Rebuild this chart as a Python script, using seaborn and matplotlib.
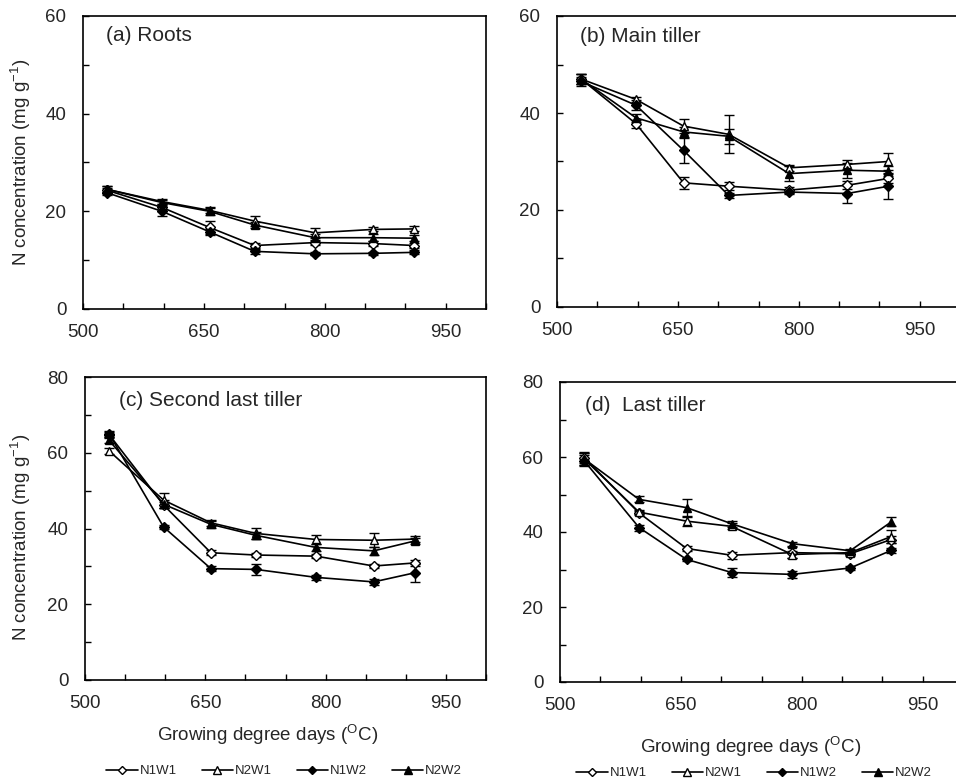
import numpy as np
import pandas as pd
import matplotlib
matplotlib.use("Agg")
import matplotlib.pyplot as plt
from matplotlib.lines import Line2D
from matplotlib.ticker import MultipleLocator, FixedLocator
import seaborn as sns

sns.set_style("white")
plt.rcParams['font.family'] = ['Liberation Sans', 'DejaVu Sans']
plt.rcParams['mathtext.fontset'] = 'custom'
plt.rcParams['mathtext.rm'] = 'Liberation Sans'
plt.rcParams['mathtext.it'] = 'Liberation Sans'

# ---- data ----
gdd = [530, 598, 657, 713, 788, 860, 911]
treatments = ["N1W1", "N2W1", "N1W2", "N2W2"]

roots_N1W1 = [24.3, 20.8, 16.7, 13.0, 13.6, 13.4, 13.0]
roots_N2W1 = [24.5, 22.0, 20.2, 18.0, 15.6, 16.3, 16.4]
roots_N1W2 = [23.8, 20.0, 15.8, 11.8, 11.3, 11.4, 11.6]
roots_N2W2 = [24.5, 21.8, 20.0, 17.2, 14.6, 14.6, 14.5]
roots_err_N1W1 = [0.5, 0.8, 1.4, 0.6, 0.5, 0.6, 0.5]
roots_err_N2W1 = [0.6, 0.6, 0.6, 1.1, 1.0, 0.4, 0.5]
roots_err_N1W2 = [0.5, 0.9, 0.6, 0.5, 0.3, 0.3, 0.4]
roots_err_N2W2 = [0.6, 0.6, 0.7, 0.7, 0.7, 0.7, 0.6]

main_N1W1 = [47.0, 37.8, 25.6, 24.9, 24.1, 25.1, 26.5]
main_N2W1 = [47.0, 42.8, 37.3, 35.6, 28.7, 29.4, 30.0]
main_N1W2 = [46.5, 41.6, 32.3, 23.0, 23.7, 23.4, 24.9]
main_N2W2 = [47.0, 39.0, 36.1, 35.2, 27.5, 28.2, 28.0]
main_err_N1W1 = [1.0, 0.8, 1.3, 0.8, 0.6, 0.8, 1.0]
main_err_N2W1 = [1.0, 0.6, 1.5, 3.9, 0.6, 1.0, 1.8]
main_err_N1W2 = [1.0, 1.0, 2.6, 0.6, 0.5, 2.0, 2.7]
main_err_N2W2 = [1.0, 0.8, 1.0, 1.5, 1.5, 1.5, 1.0]

second_N1W1 = [64.8, 46.2, 33.6, 33.0, 32.7, 30.1, 30.9]
second_N2W1 = [60.5, 47.5, 41.5, 38.7, 37.1, 36.9, 37.2]
second_N1W2 = [65.0, 40.4, 29.4, 29.2, 27.1, 25.9, 28.3]
second_N2W2 = [63.3, 46.4, 41.1, 38.2, 35.0, 34.1, 36.7]
second_err_N1W1 = [0.8, 0.8, 0.6, 0.6, 0.6, 0.6, 0.9]
second_err_N2W1 = [0.8, 2.0, 0.8, 1.5, 1.1, 1.9, 0.8]
second_err_N1W2 = [0.8, 0.6, 0.7, 1.5, 0.7, 0.7, 2.4]
second_err_N2W2 = [0.8, 1.0, 1.0, 1.0, 1.0, 1.0, 0.8]

last_N1W1 = [59.8, 45.1, 35.6, 33.8, 34.5, 34.2, 38.0]
last_N2W1 = [59.5, 45.3, 42.9, 41.5, 34.0, 34.5, 38.8]
last_N1W2 = [59.0, 41.2, 32.7, 29.2, 28.7, 30.4, 35.1]
last_N2W2 = [59.5, 48.7, 46.5, 42.2, 36.9, 35.0, 42.7]
last_err_N1W1 = [1.5, 0.6, 0.6, 1.0, 1.5, 0.6, 1.0]
last_err_N2W1 = [1.5, 0.6, 1.2, 0.8, 1.0, 0.6, 1.8]
last_err_N1W2 = [1.5, 0.8, 0.5, 1.3, 1.0, 0.5, 0.7]
last_err_N2W2 = [1.5, 0.8, 2.3, 0.8, 0.5, 0.5, 1.2]

panel_titles = ["(a) Roots", "(b) Main tiller", "(c) Second last tiller", "(d)  Last tiller"]
x_ticklabels = ["500", "650", "800", "950"]

panels = [
    (roots_N1W1, roots_N2W1, roots_N1W2, roots_N2W2,
     roots_err_N1W1, roots_err_N2W1, roots_err_N1W2, roots_err_N2W2),
    (main_N1W1, main_N2W1, main_N1W2, main_N2W2,
     main_err_N1W1, main_err_N2W1, main_err_N1W2, main_err_N2W2),
    (second_N1W1, second_N2W1, second_N1W2, second_N2W2,
     second_err_N1W1, second_err_N2W1, second_err_N1W2, second_err_N2W2),
    (last_N1W1, last_N2W1, last_N1W2, last_N2W2,
     last_err_N1W1, last_err_N2W1, last_err_N1W2, last_err_N2W2),
]

styles = {
    "N1W1": dict(marker="D", mfc="white", ms=4.8),
    "N2W1": dict(marker="^", mfc="white", ms=6),
    "N1W2": dict(marker="D", mfc="black", ms=4.8),
    "N2W2": dict(marker="^", mfc="black", ms=6),
}

W, H = 956, 780
fig = plt.figure(figsize=(W / 100, H / 100), dpi=100)

def px_axes(l, t, r, b):
    return fig.add_axes([l / W, 1 - b / H, (r - l) / W, (b - t) / H])

axes = [
    px_axes(83, 16, 486, 309),
    px_axes(557, 16, 960, 307),
    px_axes(85, 377, 486, 680),
    px_axes(560, 382, 963, 682),
]
ylims = [60, 60, 80, 80]
title_pos = [(0.057, 0.935), (0.057, 0.928), (0.085, 0.924), (0.063, 0.923)]

for i, ax in enumerate(axes):
    vals = panels[i]
    for j, t in enumerate(treatments):
        y = vals[j]
        e = vals[j + 4]
        st = styles[t]
        ax.errorbar(gdd, y, yerr=e, fmt="none", ecolor="black",
                    elinewidth=1.0, capsize=3.5, capthick=1.0, zorder=2)
        sns.lineplot(x=gdd, y=y, ax=ax, color="black", lw=1.2,
                     marker=st["marker"], markersize=st["ms"],
                     markerfacecolor=st["mfc"], markeredgecolor="black",
                     markeredgewidth=1.0, zorder=3, legend=False)
    ax.set_xlim(500, 1000)
    ax.set_ylim(0, ylims[i])
    ax.xaxis.set_major_locator(FixedLocator([500, 650, 800, 950]))
    ax.set_xticklabels(x_ticklabels)
    ax.xaxis.set_minor_locator(MultipleLocator(50))
    ax.yaxis.set_major_locator(MultipleLocator(20))
    ax.yaxis.set_minor_locator(MultipleLocator(10))
    ax.tick_params(which="both", direction="in", length=4.5, width=1.0,
                   bottom=True, left=True, top=False, right=False, color="black")
    ax.tick_params(axis="x", which="major", pad=11, labelsize=13.5)
    ax.tick_params(axis="y", which="major", pad=12, labelsize=13.5)
    for s in ax.spines.values():
        s.set_color("black")
        s.set_linewidth(1.2)
        s.set_visible(True)
    ax.set_xlabel("")
    ax.set_ylabel("")
    ax.text(title_pos[i][0], title_pos[i][1], panel_titles[i],
            transform=ax.transAxes, fontsize=15, ha="left", va="center")

ylab = "N concentration (mg g$^{-1}$)"
axes[0].set_ylabel(ylab, fontsize=13.5)
axes[0].yaxis.set_label_coords(-0.125, 0.5)
axes[2].set_ylabel(ylab, fontsize=13.5)
axes[2].yaxis.set_label_coords(-0.13, 0.47)

xlab = "Growing degree days ($^{\\rm O}$C)"
fig.text(268 / W, 1 - 735 / H, xlab, fontsize=13.5, ha="center", va="center")
fig.text(751 / W, 1 - 747 / H, xlab, fontsize=13.5, ha="center", va="center")

handles = [Line2D([0], [0], color="black", lw=1.2, marker=styles[t]["marker"],
                  markersize=styles[t]["ms"] - 0.5, markerfacecolor=styles[t]["mfc"],
                  markeredgecolor="black") for t in treatments]
for cx, cy in [(284, 771), (754, 773)]:
    fig.legend(handles, treatments, loc="center", bbox_to_anchor=(cx / W, 1 - cy / H),
               ncol=4, frameon=False, fontsize=9.5, handlelength=2.4,
               handletextpad=0.1, columnspacing=1.9, borderpad=0)

fig.savefig("out.png", dpi=100)
